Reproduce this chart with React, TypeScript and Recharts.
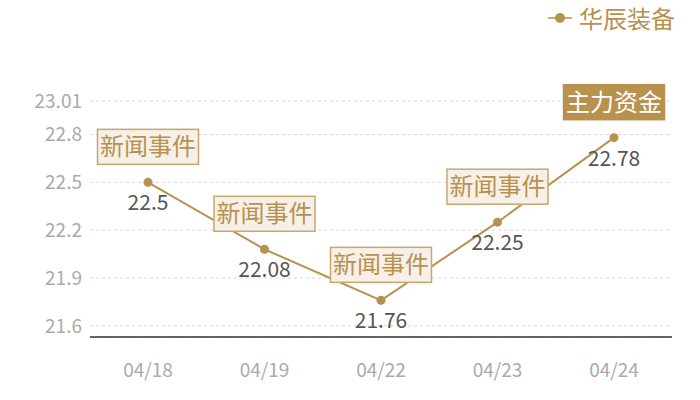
import React from 'react'
import {
  LineChart,
  Line,
  XAxis,
  YAxis,
  CartesianGrid,
  Legend,
  LabelList,
} from 'recharts'

const dates = ['04/18', '04/19', '04/22', '04/23', '04/24']
const prices = [22.5, 22.08, 21.76, 22.25, 22.78]
const events = ['新闻事件', '新闻事件', '新闻事件', '新闻事件', '主力资金']
const yTicks = [21.6, 21.9, 22.2, 22.5, 22.8, 23.01]
const seriesName = '华辰装备'

const GOLD = '#b8914f'
const FONT = '"Noto Sans CJK SC", "Noto Sans", sans-serif'

const data = dates.map((date, i) => ({ date, price: prices[i], event: events[i] }))

const PointLabel = (props: any) => {
  const { x, y, value, index } = props
  const ev = events[index]
  const highlight = ev === '主力资金'
  const w = 101
  const h = 35
  const bx = x - w / 2
  const by = y - 18 - h
  return (
    <g>
      <text
        x={x}
        y={y + 28}
        textAnchor="middle"
        fontSize={21}
        fill="#555"
        fontFamily={FONT}
      >
        {value}
      </text>
      <rect
        x={bx}
        y={by}
        width={w}
        height={h}
        fill={highlight ? GOLD : '#f6f0e8'}
        stroke={highlight ? GOLD : '#c9a66b'}
        strokeWidth={1.5}
      />
      <text
        x={x}
        y={by + h / 2 + 8.5}
        textAnchor="middle"
        fontSize={24}
        fill={highlight ? '#fff' : GOLD}
        fontFamily={FONT}
      >
        {ev}
      </text>
    </g>
  )
}

const LegendContent = () => (
  <div style={{ display: 'flex', alignItems: 'center', justifyContent: 'flex-end', fontFamily: FONT, height: 30 }}>
    <svg width={24} height={12} style={{ marginRight: 7 }}>
      <line x1={0} y1={6} x2={24} y2={6} stroke={GOLD} strokeWidth={1.5} />
      <circle cx={12} cy={6} r={5} fill={GOLD} />
    </svg>
    <span style={{ color: GOLD, fontSize: 24, lineHeight: '30px' }}>{seriesName}</span>
  </div>
)

export default function App() {
  return (
    <div style={{ position: 'absolute', left: 0, top: 0, width: 700, height: 400, background: '#fff' }}>
      <LineChart
        width={700}
        height={400}
        data={data}
        margin={{ top: 71, right: 28, left: 0, bottom: 0 }}
      >
        <CartesianGrid
          horizontal
          vertical={false}
          stroke="#d6d6d6"
          strokeDasharray="3 3"
        />
        <XAxis
          dataKey="date"
          height={63}
          padding={{ left: 58, right: 58 }}
          tickLine={false}
          tickSize={0}
          tickMargin={27}
          axisLine={{ stroke: '#333', strokeWidth: 1.5 }}
          tick={{ fill: '#aaa', fontSize: 19, fontFamily: FONT }}
        />
        <YAxis
          width={90}
          domain={[21.53, 23.01]}
          ticks={yTicks}
          allowDataOverflow
          tickLine={false}
          tickSize={0}
          tickMargin={8}
          axisLine={false}
          tick={{ fill: '#aaa', fontSize: 19, fontFamily: FONT }}
        />
        <Legend
          verticalAlign="top"
          align="right"
          content={<LegendContent />}
          wrapperStyle={{ top: 3, right: 25, width: 'auto', left: 'auto', height: 30 }}
        />
        <Line
          type="linear"
          dataKey="price"
          name={seriesName}
          stroke={GOLD}
          strokeWidth={2}
          dot={{ r: 4.5, fill: GOLD, stroke: GOLD, strokeWidth: 0 }}
          activeDot={false}
          isAnimationActive={false}
        >
          <LabelList dataKey="price" content={<PointLabel />} />
        </Line>
      </LineChart>
    </div>
  )
}
